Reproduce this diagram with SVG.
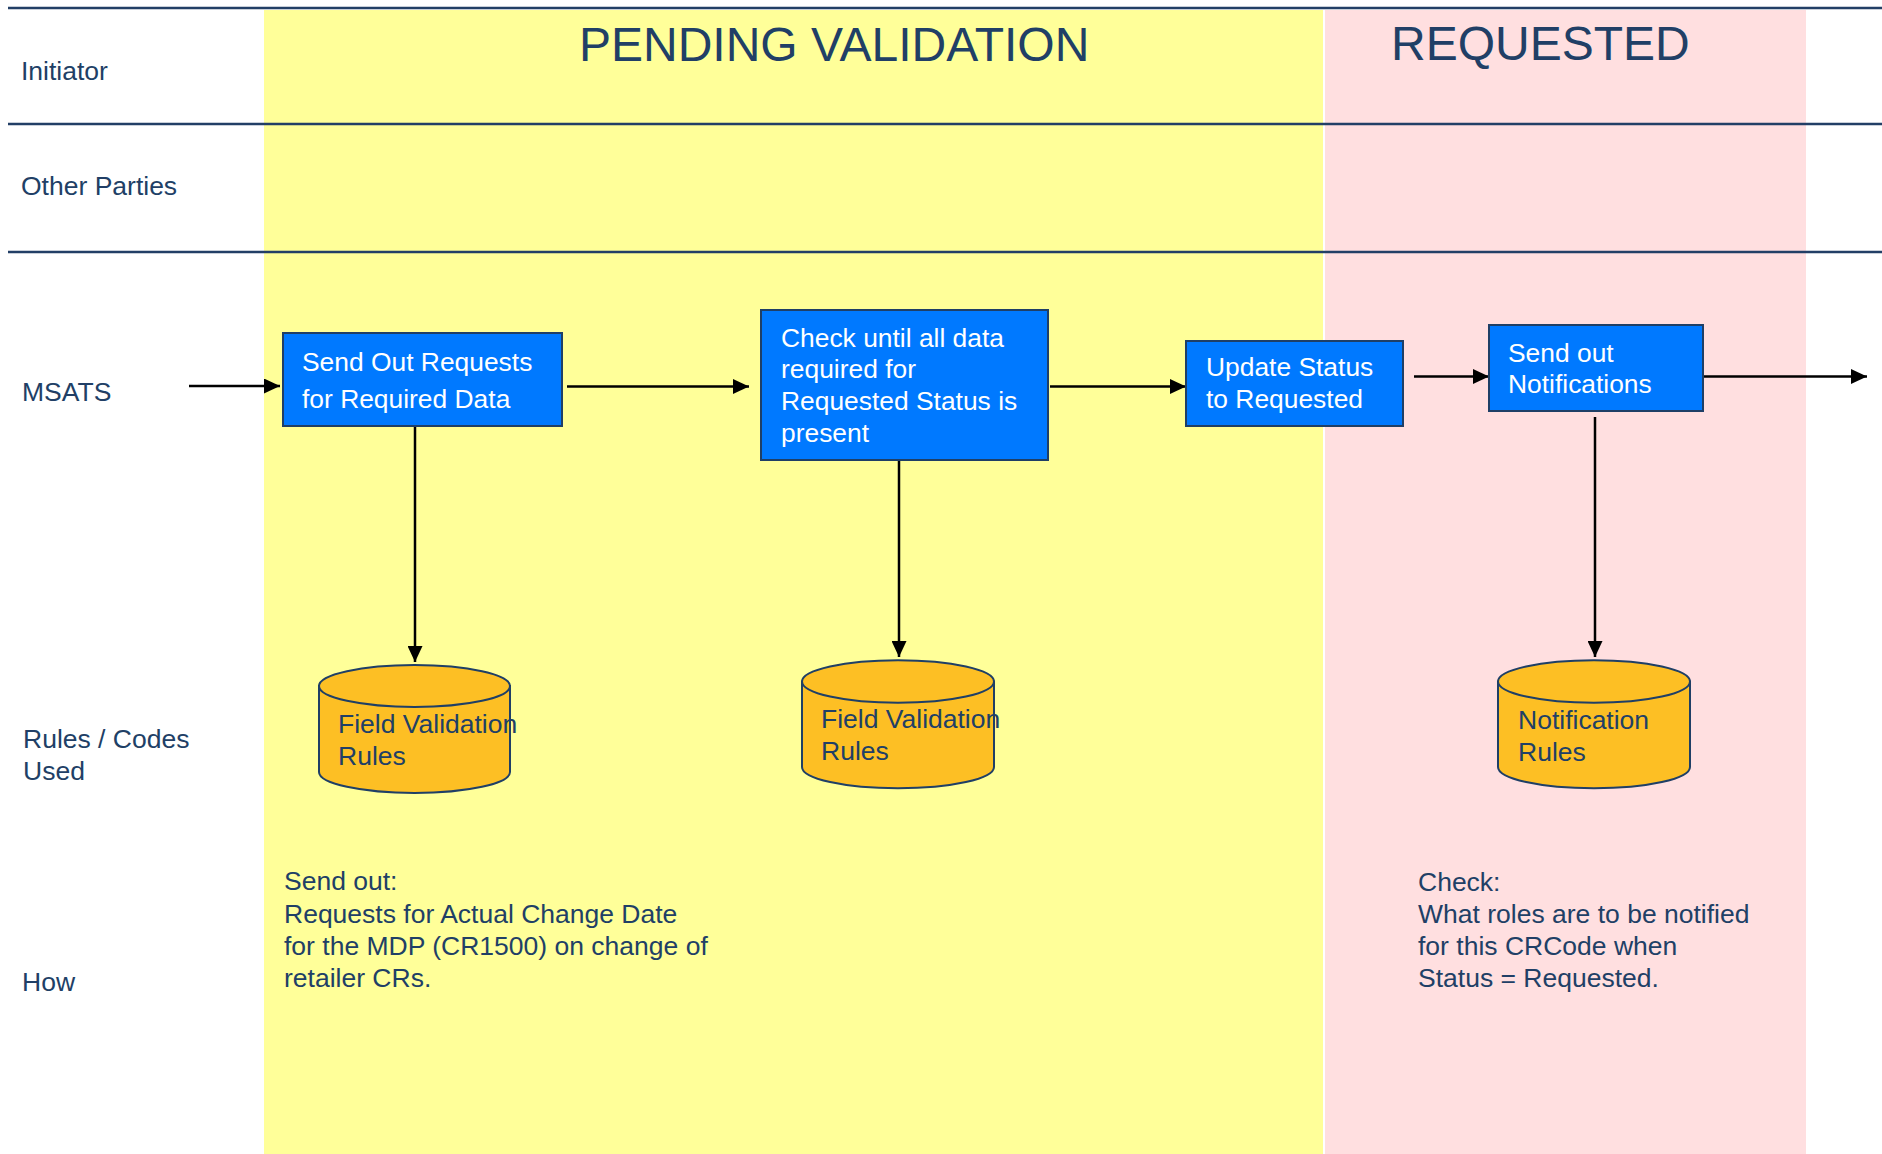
<svg xmlns="http://www.w3.org/2000/svg" width="1882" height="1154" viewBox="0 0 1882 1154">
<style>
.lbl{font-family:"Liberation Sans",Arial,sans-serif;font-size:26.5px;fill:#213F66}
.ttl{font-family:"Liberation Sans",Arial,sans-serif;font-size:48px;fill:#213F66}
.btxt{font-family:"Liberation Sans",Arial,sans-serif;font-size:26.4px;fill:#FFFFFF}
.box{fill:#0079FF;stroke:#1F3F66;stroke-width:2}
.cyl{fill:#FDBF24;stroke:#1F3F66;stroke-width:2}
.lane{stroke:#223F66;stroke-width:2.5;fill:none}
.conn{stroke:#000;stroke-width:2.5;fill:none;marker-end:url(#arr)}
</style>
<defs>
<marker id="arr" markerUnits="userSpaceOnUse" markerWidth="16" markerHeight="15" refX="16" refY="7.5" orient="auto">
<path d="M0,0 L16,7.5 L0,15 Z" fill="#000"/>
</marker>
</defs>
<rect width="1882" height="1154" fill="#FFFFFF"/>
<g id="phases">
<rect x="264" y="10" width="1059" height="1144" fill="#FFFF99"/>
<rect x="1325" y="10" width="481" height="1144" fill="#FFDFE0"/>
<text class="ttl" x="579" y="61">PENDING VALIDATION</text>
<text class="ttl" x="1391" y="60">REQUESTED</text>
</g>
<g id="lanes">
<line class="lane" x1="8" y1="8" x2="1882" y2="8" stroke="#4A6A90"/>
<line class="lane" x1="8" y1="124" x2="1882" y2="124"/>
<line class="lane" x1="8" y1="252" x2="1882" y2="252"/>
<text class="lbl" x="21" y="80">Initiator</text>
<text class="lbl" x="21" y="195">Other Parties</text>
<text class="lbl" x="22" y="401">MSATS</text>
<text class="lbl" x="23" y="748">Rules / Codes</text>
<text class="lbl" x="23" y="780">Used</text>
<text class="lbl" x="22" y="991">How</text>
</g>
<g id="connectors">
<line class="conn" x1="189" y1="386" x2="280" y2="386"/>
<line class="conn" x1="567" y1="386.5" x2="749" y2="386.5"/>
<line class="conn" x1="1050" y1="386.5" x2="1186" y2="386.5"/>
<line class="conn" x1="1414" y1="376.5" x2="1489" y2="376.5"/>
<line class="conn" x1="1703" y1="376.5" x2="1867" y2="376.5"/>
<line class="conn" x1="415" y1="421" x2="415" y2="662"/>
<line class="conn" x1="899" y1="461" x2="899" y2="657"/>
<line class="conn" x1="1595" y1="417" x2="1595" y2="657"/>
</g>
<g id="send-requests">
<rect class="box" x="283" y="333" width="279" height="93"/>
<text class="btxt" x="302" y="371">Send Out Requests</text>
<text class="btxt" x="302" y="408">for Required Data</text>
</g>
<g id="check-data">
<rect class="box" x="761" y="310" width="287" height="150"/>
<text class="btxt" x="781" y="347">Check until all data</text>
<text class="btxt" x="781" y="378">required for</text>
<text class="btxt" x="781" y="410">Requested Status is</text>
<text class="btxt" x="781" y="442">present</text>
</g>
<g id="update-status">
<rect class="box" x="1186" y="341" width="217" height="85"/>
<text class="btxt" x="1206" y="376">Update Status</text>
<text class="btxt" x="1206" y="408">to Requested</text>
</g>
<g id="send-notifications">
<rect class="box" x="1489" y="325" width="214" height="86"/>
<text class="btxt" x="1508" y="362">Send out</text>
<text class="btxt" x="1508" y="393">Notifications</text>
</g>
<g id="field-rules-1">
<path class="cyl" d="M319,686 V772 A95.5,21 0 0 0 510,772 V686 Z"/>
<ellipse class="cyl" cx="414.5" cy="686" rx="95.5" ry="21"/>
<text class="lbl" x="338" y="733">Field Validation</text>
<text class="lbl" x="338" y="765">Rules</text>
</g>
<g id="field-rules-2">
<path class="cyl" d="M802,681.5 V767 A96,21.3 0 0 0 994,767 V681.5 Z"/>
<ellipse class="cyl" cx="898" cy="681.5" rx="96" ry="21.3"/>
<text class="lbl" x="821" y="728">Field Validation</text>
<text class="lbl" x="821" y="760">Rules</text>
</g>
<g id="notification-rules">
<path class="cyl" d="M1498,681.5 V767 A96,21.3 0 0 0 1690,767 V681.5 Z"/>
<ellipse class="cyl" cx="1594" cy="681.5" rx="96" ry="21.3"/>
<text class="lbl" x="1518" y="729">Notification</text>
<text class="lbl" x="1518" y="761">Rules</text>
</g>
<g id="how-send">
<text class="lbl" x="284" y="890">Send out:</text>
<text class="lbl" x="284" y="923">Requests for Actual Change Date</text>
<text class="lbl" x="284" y="955">for the MDP (CR1500) on change of</text>
<text class="lbl" x="284" y="987">retailer CRs.</text>
</g>
<g id="how-check">
<text class="lbl" x="1418" y="891">Check:</text>
<text class="lbl" x="1418" y="923">What roles are to be notified</text>
<text class="lbl" x="1418" y="955">for this CRCode when</text>
<text class="lbl" x="1418" y="987">Status = Requested.</text>
</g>
</svg>
